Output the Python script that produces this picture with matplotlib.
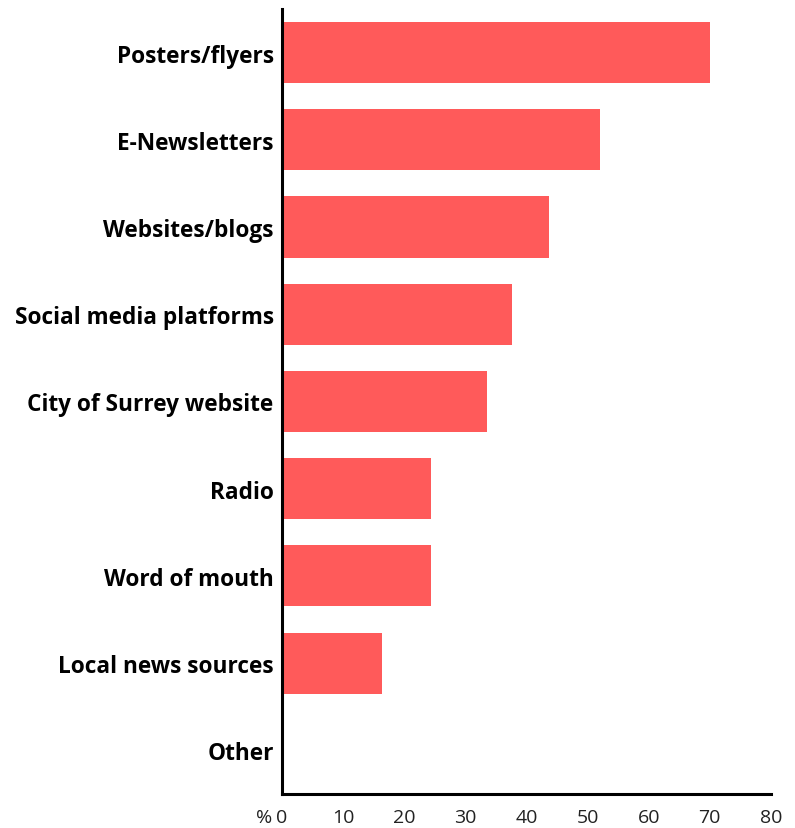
import matplotlib.pyplot as plt

# categories (top to bottom) and percentages
categories = ['Posters/flyers', 'E-Newsletters', 'Websites/blogs', 'Social media platforms',
              'City of Surrey website', 'Radio', 'Word of mouth', 'Local news sources', 'Other']
values = [70, 52, 43.7, 37.6, 33.5, 24.4, 24.4, 16.4, 0.2]
xticks = [0, 10, 20, 30, 40, 50, 60, 70, 80]

plt.rcParams['font.family'] = ['Open Sans', 'DejaVu Sans']

fig = plt.figure(figsize=(7.95, 8.29), dpi=100)
ax = fig.add_axes([0.3547, 0.041, 0.615, 0.947])

y = list(range(len(categories)))
ax.barh(y, values, height=0.7, color='#FF5A5A')

ax.set_ylim(len(categories) - 0.5, -0.5)
ax.set_xlim(0, 80)
ax.set_yticks(y)
ax.set_yticklabels(categories, fontsize=16.3, fontweight='bold', color='black')
ax.set_xticks(xticks)
ax.set_xticklabels([str(t) for t in xticks], fontsize=14, color='#222222')
ax.tick_params(length=0)
ax.tick_params(axis='y', pad=6)
ax.tick_params(axis='x', pad=10)

for s in ['top', 'right']:
    ax.spines[s].set_visible(False)
for s in ['left', 'bottom']:
    ax.spines[s].set_linewidth(2.2)
    ax.spines[s].set_color('black')
    ax.spines[s].set_capstyle('projecting')

ax.text(-1.6, -0.0295, '%', transform=ax.get_xaxis_transform(), ha='right', va='center',
        fontsize=14, color='#222222')

fig.savefig('out.png', dpi=100)
